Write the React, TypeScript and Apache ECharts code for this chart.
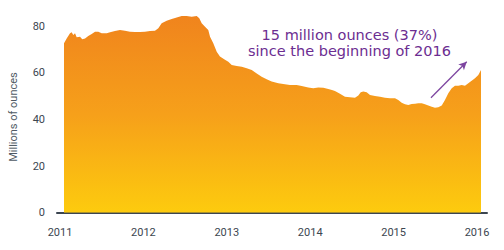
import React, { useEffect, useRef } from "react";
import * as echarts from "echarts";

// Decimal-year positions of the observations
const years: number[] = [
  2011.048, 2011.08, 2011.12, 2011.14, 2011.159, 2011.18, 2011.2, 2011.24, 2011.267, 2011.3,
  2011.339, 2011.38, 2011.42, 2011.459, 2011.5, 2011.56, 2011.6, 2011.659, 2011.719, 2011.779,
  2011.839, 2011.899, 2011.959, 2012.019, 2012.079, 2012.139, 2012.179, 2012.219, 2012.279, 2012.339,
  2012.399, 2012.459, 2012.519, 2012.579, 2012.639, 2012.67, 2012.699, 2012.739, 2012.778, 2012.799,
  2012.838, 2012.879, 2012.918, 2012.978, 2013.018, 2013.059, 2013.119, 2013.179, 2013.239, 2013.299,
  2013.359, 2013.418, 2013.478, 2013.538, 2013.618, 2013.677, 2013.757, 2013.838, 2013.898, 2013.977,
  2014.037, 2014.097, 2014.157, 2014.217, 2014.261, 2014.297, 2014.357, 2014.417, 2014.477, 2014.537,
  2014.577, 2014.606, 2014.637, 2014.677, 2014.717, 2014.777, 2014.837, 2014.897, 2014.957, 2015.017,
  2015.056, 2015.097, 2015.137, 2015.176, 2015.217, 2015.257, 2015.296, 2015.337, 2015.376, 2015.416,
  2015.457, 2015.496, 2015.536, 2015.577, 2015.616, 2015.656, 2015.697, 2015.736, 2015.776, 2015.817,
  2015.856, 2015.896, 2015.936, 2015.976, 2016.016, 2016.048,
];

// Holdings, millions of ounces
const holdings: number[] = [
  72.6, 74.7, 76.9, 77.3, 76.2, 76.9, 75.2, 75.4, 74.3, 74.7,
  75.7, 76.6, 77.6, 77.6, 76.9, 76.9, 77.3, 77.9, 78.3, 78.0,
  77.6, 77.4, 77.4, 77.6, 77.9, 78.0, 79.0, 81.2, 82.3, 83.0,
  83.7, 84.3, 84.3, 84.0, 84.3, 83.3, 81.2, 79.7, 78.3, 75.4,
  72.6, 69.0, 66.9, 65.5, 64.7, 63.3, 62.9, 62.6, 61.9, 61.2,
  59.7, 58.3, 57.2, 56.2, 55.5, 55.2, 54.7, 54.7, 54.3, 53.7,
  53.3, 53.7, 53.6, 53.0, 52.6, 52.2, 51.0, 49.7, 49.5, 49.3,
  50.2, 51.6, 51.9, 51.6, 50.4, 50.0, 49.7, 49.3, 49.0, 49.0,
  48.3, 47.1, 46.5, 46.2, 46.6, 46.7, 46.9, 46.9, 46.5, 45.9,
  45.4, 45.0, 45.2, 45.9, 48.3, 51.2, 53.3, 54.4, 54.4, 54.7,
  54.4, 55.5, 56.5, 57.6, 59.0, 61.2,
];

const xTickLabels: number[] = [2011, 2012, 2013, 2014, 2015, 2016];
const yTickLabels: number[] = [0, 20, 40, 60, 80];

const annotationLines: string[] = ["15 million ounces (37%)", "since the beginning of 2016"];
const arrowFrom: [number, number] = [2015.448, 49.3];
const arrowTo: [number, number] = [2015.877, 64.7];
const yAxisTitle = "Millions of ounces";

const FONT = "Roboto, 'Noto Sans', sans-serif";
const NOTE_FONT = "'DejaVu Sans', Roboto, sans-serif";

export default function App() {
  const ref = useRef<HTMLDivElement>(null);
  useEffect(() => {
    if (!ref.current) return;
    const chart = echarts.init(ref.current, null, { renderer: "svg" });
    const seriesData = years.map((y, i) => [y, holdings[i]]);
    chart.setOption({
      animation: false,
      backgroundColor: "#ffffff",
      grid: { left: 57, right: 17, top: 2.7, bottom: 37.3, containLabel: false },
      xAxis: {
        type: "value",
        min: 2010.964,
        max: 2016.12,
        splitLine: { show: false },
        axisTick: { show: false },
        axisLine: { show: true, lineStyle: { color: "#3b4550", width: 2 } },
        axisLabel: {
          customValues: xTickLabels,
          formatter: (v: number) => String(Math.round(v)),
          color: "#3c4650",
          fontFamily: FONT,
          fontSize: 11,
          margin: 14,
        },
      },
      yAxis: {
        type: "value",
        min: 0,
        max: 90,
        splitLine: { show: false },
        axisTick: { show: false },
        axisLine: { show: false },
        axisLabel: {
          customValues: yTickLabels,
          color: "#3c4650",
          fontFamily: FONT,
          fontSize: 11,
          margin: 12,
        },
      },
      graphic: [
        {
          type: "text",
          x: 13,
          y: 117,
          rotation: Math.PI / 2,
          style: {
            text: yAxisTitle,
            fill: "#4f5a64",
            font: `11px ${FONT}`,
            textAlign: "center",
            textVerticalAlign: "middle",
          },
        },
        {
          type: "text",
          x: 349.5,
          y: 43,
          style: {
            text: annotationLines.join("\n"),
            fill: "#6c2d91",
            font: `14.5px ${NOTE_FONT}`,
            lineHeight: 16,
            textAlign: "center",
            textVerticalAlign: "middle",
          },
        },
      ],
      series: [
        {
          type: "line",
          data: seriesData,
          showSymbol: false,
          symbol: "none",
          lineStyle: { width: 0 },
          areaStyle: {
            opacity: 1,
            color: new echarts.graphic.LinearGradient(0, 0, 0, 1, [
              { offset: 0, color: "#f0841d" },
              { offset: 0.5, color: "#f6a01a" },
              { offset: 1, color: "#fdcb0e" },
            ]),
          },
          markLine: {
            silent: true,
            symbol: ["none", "arrow"],
            symbolSize: [6, 8],
            label: { show: false },
            lineStyle: { color: "#7d45a0", width: 1.3, type: "solid" },
            data: [[{ coord: arrowFrom }, { coord: arrowTo }]],
          },
        },
      ],
    });
    return () => chart.dispose();
  }, []);
  return <div ref={ref} style={{ width: 504, height: 250, position: "absolute", left: 0, top: 0 }} />;
}
